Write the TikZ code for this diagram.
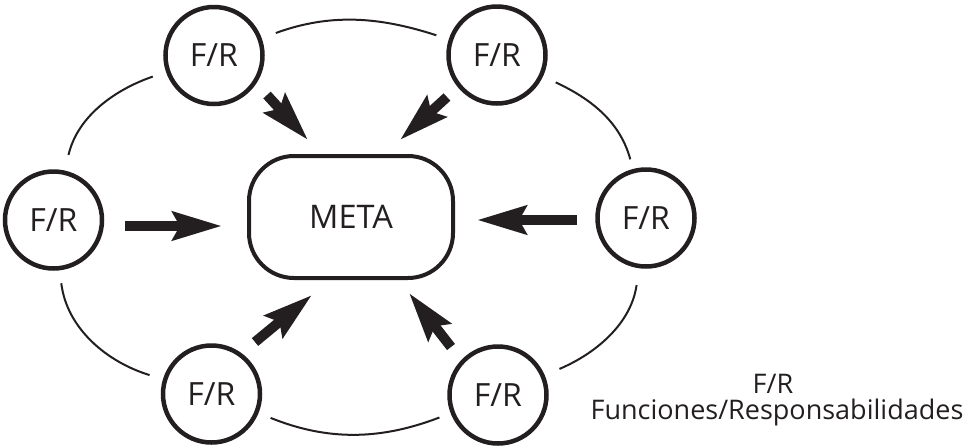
\documentclass[tikz,border=0pt]{standalone}
\usepackage{fontspec}
\setmainfont{Open Sans}
\usetikzlibrary{arrows.meta}
\definecolor{ink}{RGB}{35,31,32}

\begin{document}
\begin{tikzpicture}[x=1pt,y=1pt,
	fr/.style={circle,draw=ink,line width=4.5pt,minimum size=97pt,inner sep=0pt,text=ink,font=\fontsize{32}{38}\selectfont},
	goal/.style={rectangle,rounded corners=45pt,draw=ink,line width=4pt,minimum width=204pt,minimum height=122pt,text=ink,font=\fontsize{32.5}{38}\selectfont},
	ring/.style={draw=ink,line width=2pt},
	push/.style={draw=ink,line width=10pt,-{Stealth[length=49pt,width=28pt,inset=7pt]}},
	legend/.style={anchor=base,text=ink,inner sep=0pt,font=\fontsize{27}{32}\selectfont}]
	\useasboundingbox (0,0) rectangle (963,-445);
	\node[goal] (meta) at (351,-217) {META};
	\node[fr] (fr_1) at (214,-55.5) {F/R};
	\node[fr] (fr_2) at (497,-55) {F/R};
	\node[fr] (fr_3) at (646,-218) {F/R};
	\node[fr] (fr_4) at (498,-395) {F/R};
	\node[fr] (fr_5) at (211.5,-394) {F/R};
	\node[fr] (fr_6) at (53.5,-220) {F/R};
	% anillo entre los circulos
	\draw[ring,shorten <=15pt,shorten >=13pt] (fr_1) to [out=20,in=162] (fr_2);
	\draw[ring,shorten <=14pt,shorten >=10pt] (fr_2) to [out=-25,in=105] (fr_3);
	\draw[ring,shorten <=17pt,shorten >=16pt] (fr_3) to [out=-98,in=23] (fr_4);
	\draw[ring,shorten <=12pt,shorten >=13pt] (fr_4) to [out=201,in=-22] (fr_5);
	\draw[ring,shorten <=14pt,shorten >=13pt] (fr_5) to [out=163,in=-83] (fr_6);
	\draw[ring,shorten <=16pt,shorten >=14pt] (fr_6) to [out=77,in=199] (fr_1);
	% flechas hacia la meta
	\coordinate (s_1) at (267,-95);  \coordinate (t_1) at (308,-140);
	\coordinate (s_2) at (447,-97);  \coordinate (t_2) at (400,-140);
	\coordinate (s_3) at (577,-220); \coordinate (t_3) at (477,-220);
	\coordinate (s_4) at (451,-347); \coordinate (t_4) at (409,-293);
	\coordinate (s_5) at (255,-342); \coordinate (t_5) at (312,-295);
	\coordinate (s_6) at (125,-226); \coordinate (t_6) at (222,-226);
	\foreach \i in {1,...,6}
		\draw[push] (s_\i) -- (t_\i);
	\node[legend] (leg_1) at (773,-393) {F/R};
	\node[legend] (leg_2) at (777,-419) {Funciones/Responsabilidades};
\end{tikzpicture}
\end{document}
